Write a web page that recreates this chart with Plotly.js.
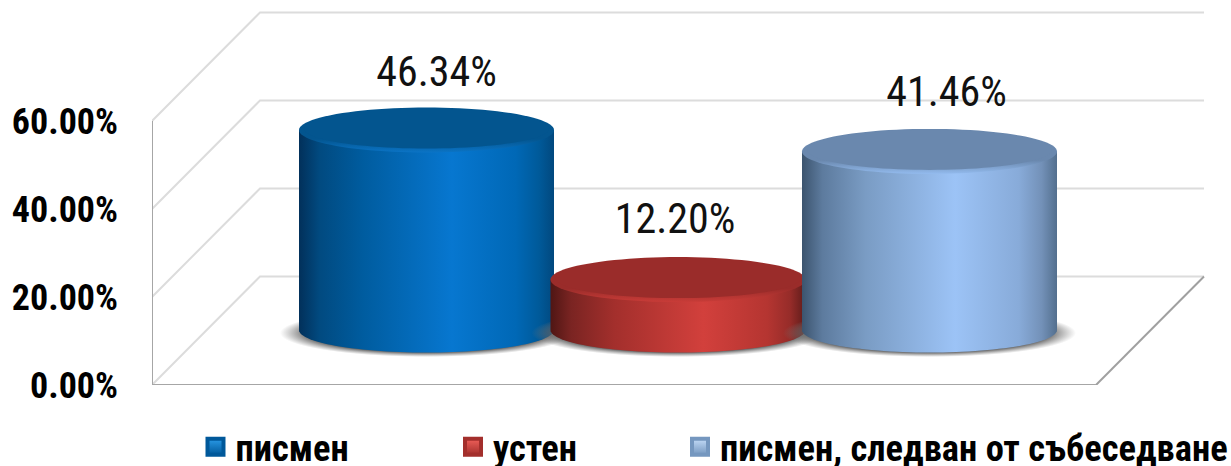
<!DOCTYPE html>
<html>
<head>
<meta charset="utf-8">
<script src="https://cdn.plot.ly/plotly-3.0.1.min.js"></script>
<style>html,body{margin:0;padding:0;background:#fff;}#chart{width:1231px;height:466px;}</style>
</head>
<body>
<div id="chart"></div>
<script>
// --- data ---
const categories = ['писмен', 'устен', 'писмен, следван от събеседване'];
const values = [46.34, 12.20, 41.46];
const valueLabels = ['46.34%', '12.20%', '41.46%'];
const tickValues = [0, 20, 40, 60];
const tickLabels = ['0.00%', '20.00%', '40.00%', '60.00%'];

// --- styling and 3D projection constants ---
const FONT = '"Roboto Condensed", "Liberation Sans", Arial, sans-serif';
const W = 1231, H = 466;
const plotLeft = 152, plotBottom = 385;
const pxPerCat = 251.5, pxPerVal = 4.4, firstCatPx = 426.5;
const xMin = (plotLeft - firstCatPx) / pxPerCat;
const xMax = (W - firstCatPx) / pxPerCat;
const yMax = plotBottom / pxPerVal;
const floorRight = (1096 - firstCatPx) / pxPerCat;
const depthX = 108 / pxPerCat, depthY = 108.5 / pxPerVal;
const halfW = 127.5 / pxPerCat, ry = 22.5 / pxPerVal, baseY = 55 / pxPerVal;
const heightScale = 4.38 / pxPerVal, heightShift = -3 / pxPerVal;
const labelDx = [0.04, -0.012, 0.068];
const labelDy = [55 / pxPerVal, 57.5 / pxPerVal, 55.5 / pxPerVal];
const sideStops = [
  ['#02305a', '#014a80', '#005c9f', '#0777d0', '#0068b6', '#005a9a', '#01487e'],
  ['#4f1614', '#7a2422', '#a32f2c', '#d2403c', '#b53531', '#962c29', '#5e1c1a'],
  ['#3c546e', '#5d7b9e', '#7a9cc4', '#9cc3f6', '#88abd9', '#7391b8', '#536f8e']
];
const sidePos = [0, 0.08, 0.25, 0.6, 0.85, 0.94, 1];
const topColor = ['#03558f', '#9a2c2a', '#6a88ae'];
const rimColor = ['#0b74c6', '#c93c38', '#93bbee'];
const legendBright = ['#2a9be8', '#f0605a', '#c4dcf8'];
const legendEdge = ['#00589a', '#a32f2c', '#7597bf'];
const legendPx = [195.5, 453, 680];
const legendIds = ['legend', 'legend2', 'legend3'];

function ellipse(cx, cy, a, b) {
  const xs = [], ys = [];
  for (let i = 0; i <= 96; i++) {
    const t = i / 96 * 2 * Math.PI;
    xs.push(cx + a * Math.cos(t));
    ys.push(cy + b * Math.sin(t));
  }
  return {x: xs, y: ys};
}
function side(cx, top, bottom, a, b) {
  const xs = [cx - a], ys = [top];
  for (let i = 0; i <= 60; i++) {
    const t = Math.PI + i / 60 * Math.PI;
    xs.push(cx + a * Math.cos(t));
    ys.push(bottom + b * Math.sin(t));
  }
  xs.push(cx + a, cx - a);
  ys.push(top, top);
  return {x: xs, y: ys};
}
const topOf = v => baseY + heightShift + v * heightScale;

const traces = [];
const line = (x, y, color, width) => traces.push({
  x, y, mode: 'lines', line: {color, width}, showlegend: false, hoverinfo: 'skip', cliponaxis: false
});

// walls and gridlines
tickValues.forEach(v => {
  line([xMin, xMin + depthX, floorRight + depthX],
       [v, v + depthY, v + depthY], '#dcdcdc', 2);
});
line([floorRight, floorRight + depthX], [0, depthY], '#a0a0a0', 2);
line([xMin, xMin], [0, 60], '#a6a6a6', 2);
line([xMin, floorRight], [0, 0], '#a6a6a6', 2);

// cylinders
values.forEach((v, i) => {
  const top = topOf(v);
  const sh = ellipse(i, baseY - 3 / pxPerVal, halfW + 19 / pxPerCat, ry + 1.5 / pxPerVal);
  traces.push({...sh, mode: 'none', fill: 'toself', showlegend: false, hoverinfo: 'skip',
    fillgradient: {type: 'radial', colorscale: [[0, 'rgba(90,90,90,1)'], [0.8, 'rgba(90,90,90,1)'], [1, 'rgba(120,120,120,0)']]}});
  const s = side(i, top, baseY, halfW, ry);
  traces.push({...s, mode: 'none', fill: 'toself', showlegend: false, hoverinfo: 'skip',
    fillgradient: {type: 'horizontal', start: i - halfW, stop: i + halfW,
      colorscale: sidePos.map((p, k) => [p, sideStops[i][k]])}});
  const e = ellipse(i, top, halfW, ry);
  traces.push({...e, mode: 'none', fill: 'toself', showlegend: false, hoverinfo: 'skip',
    fillgradient: {type: 'vertical', start: top + ry, stop: top - ry,
      colorscale: [[0, topColor[i]], [0.7, topColor[i]], [1, rimColor[i]]]}});
  const inner = ellipse(i, top + 1.5 / pxPerVal, halfW - 5 / pxPerCat, ry - 2.5 / pxPerVal);
  traces.push({...inner, mode: 'none', fill: 'toself', fillcolor: topColor[i], showlegend: false, hoverinfo: 'skip'});
});

// value labels
traces.push({
  x: values.map((v, i) => i + labelDx[i]),
  y: values.map((v, i) => topOf(v) + labelDy[i]),
  text: valueLabels, mode: 'text', textposition: 'middle center',
  textfont: {family: FONT, size: 42, color: '#111111'},
  showlegend: false, hoverinfo: 'skip', cliponaxis: false
});

// legend entries
categories.forEach((c, i) => {
  traces.push({
    x: [null], y: [null], name: c, mode: 'markers', legend: legendIds[i], showlegend: true,
    marker: {symbol: 'square', size: 20, color: legendBright[i],
      gradient: {type: 'vertical', color: legendEdge[i]}, line: {color: legendEdge[i], width: 4}}
  });
});

const layout = {
  width: W, height: H,
  margin: {l: plotLeft, r: 0, t: 0, b: H - plotBottom, pad: 0, autoexpand: false},
  paper_bgcolor: '#ffffff', plot_bgcolor: '#ffffff',
  xaxis: {range: [xMin, xMax], visible: false, fixedrange: true},
  yaxis: {range: [0, yMax], tickvals: tickValues, ticktext: tickLabels, showgrid: false, zeroline: false,
    showline: false, ticks: '', ticklabelstandoff: 33, fixedrange: true,
    tickfont: {family: FONT, size: 36, color: '#000000', weight: 'bold'}}
};
legendIds.forEach((id, i) => {
  layout[id] = {x: (legendPx[i] - plotLeft) / (W - plotLeft), y: (plotBottom - 447) / plotBottom,
    xanchor: 'left', yanchor: 'middle', orientation: 'h',
    bgcolor: 'rgba(0,0,0,0)', borderwidth: 0, itemwidth: 30, traceorder: 'normal',
    font: {family: FONT, size: 36.5, color: '#000000', weight: 'bold'}};
});

Plotly.newPlot('chart', traces, layout, {displayModeBar: false, staticPlot: true});
</script>
</body>
</html>
